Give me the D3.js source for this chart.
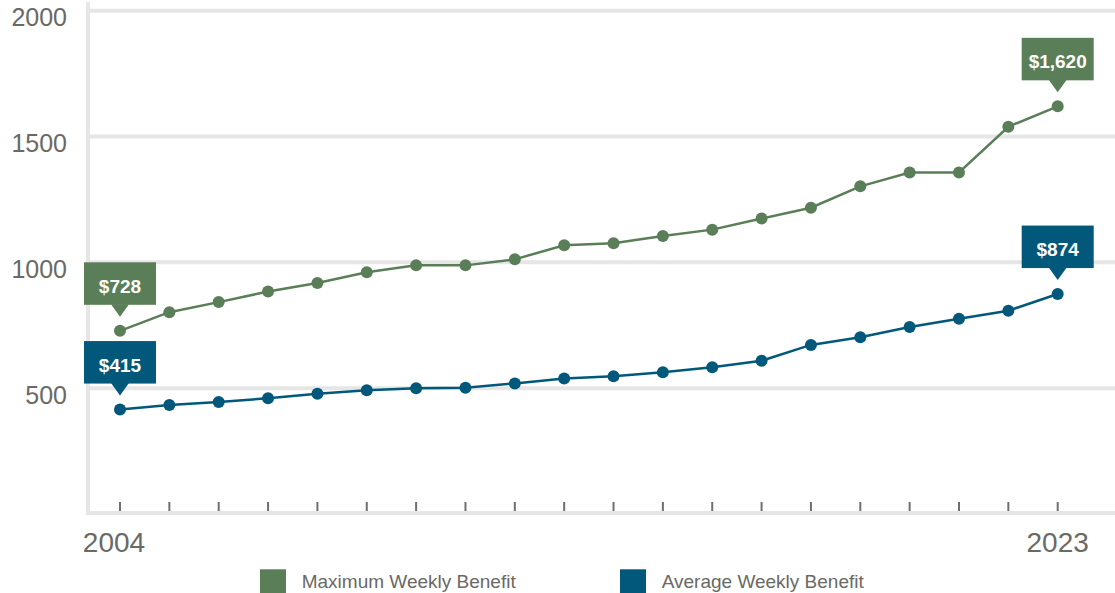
<!DOCTYPE html>
<html>
<head>
<meta charset="utf-8">
<script src="https://cdn.jsdelivr.net/npm/d3@7"></script>
<style>
  html, body { margin: 0; padding: 0; background: #fff; }
  svg { display: block; font-family: "Liberation Sans", Arial, Helvetica, sans-serif; }
</style>
</head>
<body>
<svg id="chart" width="1115" height="593"></svg>
<script>
const years = [2004,2005,2006,2007,2008,2009,2010,2011,2012,2013,2014,2015,2016,2017,2018,2019,2020,2021,2022,2023];
const maxBenefit = [728,802,842,884,918,961,988,988,1012,1068,1076,1105,1130,1174,1217,1302,1357,1357,1539,1620];
const avgBenefit = [415,433,445,460,478,492,500,502,519,538,547,563,583,609,672,702,743,776,808,874];
const yTicks = [500,1000,1500,2000];
const xLabels = [2004,2023];
const seriesNames = ["Maximum Weekly Benefit","Average Weekly Benefit"];
const seriesColors = ["#5a7e57","#02587b"];

const svg = d3.select("#chart");
const W = 1115, H = 593;
const x = d3.scaleLinear().domain([2004,2023]).range([120,1057.7]);
const y = d3.scaleLinear().domain([0,2000]).range([514,10.7]);

const gridColor = "#e5e6e5";
const textColor = "#696965";

// gridlines
svg.append("g").selectAll("line").data(yTicks).join("line")
  .attr("x1",90).attr("x2",W)
  .attr("y1",d=>y(d)).attr("y2",d=>y(d))
  .attr("stroke",gridColor).attr("stroke-width",4);

// y axis line
svg.append("line").attr("x1",88).attr("x2",88).attr("y1",2).attr("y2",515)
  .attr("stroke",gridColor).attr("stroke-width",4);
// x axis line
svg.append("line").attr("x1",86).attr("x2",W).attr("y1",513).attr("y2",513)
  .attr("stroke",gridColor).attr("stroke-width",4);

// y tick labels
svg.append("g").selectAll("text").data(yTicks).join("text")
  .attr("x",67).attr("y",d=>y(d)+15.5)
  .attr("text-anchor","end").attr("font-size",25).attr("fill",textColor)
  .text(d=>d);

// x ticks
svg.append("g").selectAll("line").data(years).join("line")
  .attr("x1",d=>x(d)).attr("x2",d=>x(d)).attr("y1",502).attr("y2",511)
  .attr("stroke","#6e6e6a").attr("stroke-width",2);

// x labels
svg.append("g").selectAll("text").data(xLabels).join("text")
  .attr("x",d=>x(d) + (d===2004 ? -6 : 0)).attr("y",551.7)
  .attr("text-anchor","middle").attr("font-size",28).attr("fill",textColor)
  .text(d=>d);

// series
const seriesData = [maxBenefit, avgBenefit];
const line = d3.line().x((d,i)=>x(years[i])).y(d=>y(d));
seriesData.forEach((vals,si)=>{
  const g = svg.append("g");
  g.append("path").datum(vals).attr("d",line)
    .attr("fill","none").attr("stroke",seriesColors[si]).attr("stroke-width",2.5);
  g.selectAll("circle").data(vals).join("circle")
    .attr("cx",(d,i)=>x(years[i])).attr("cy",d=>y(d)).attr("r",6)
    .attr("fill",seriesColors[si]);
  // callouts on first and last
  [0, vals.length-1].forEach(i=>{
    const px = x(years[i]), py = y(vals[i]);
    const bw = 72, bh = 42.5;
    const by = py - 26 - bh;
    g.append("rect").attr("x",px-bw/2).attr("y",by).attr("width",bw).attr("height",bh)
      .attr("fill",seriesColors[si]);
    g.append("path")
      .attr("d",`M${px-9},${py-26.5}L${px+9},${py-26.5}L${px},${py-14}Z`)
      .attr("fill",seriesColors[si]);
    g.append("text").attr("x",px).attr("y",by+30.6)
      .attr("text-anchor","middle").attr("font-size",19).attr("font-weight","bold")
      .attr("fill","#fff").text("$"+d3.format(",")(vals[i]));
  });
});

// legend
const legendX = [260, 620];
seriesNames.forEach((name,i)=>{
  svg.append("rect").attr("x",legendX[i]).attr("y",569.3).attr("width",26).attr("height",24)
    .attr("fill",seriesColors[i]);
  svg.append("text").attr("x",legendX[i]+41.7).attr("y",587.7)
    .attr("font-size",19).attr("fill",textColor)
    .text(name);
});
</script>
</body>
</html>
